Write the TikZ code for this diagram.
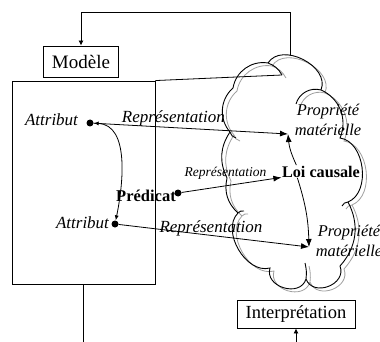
\documentclass[tikz,border=0pt]{standalone}
\usepackage{fontspec}
\setmainfont{Liberation Serif}
\usetikzlibrary{arrows.meta}

% contour du nuage (puffs + petits crochets interieurs)
\newcommand{\nuage}{%
  (233,88) to[bend left=45] (268,63)
  to[bend left=85, looseness=1.1] (321,90)
  to[bend left=45] (340,138)
  to[bend left=75] (348,202)
  to[bend left=35] (340,266)
  to[bend left=90, looseness=1.4] (306,279)
  to[bend left=90, looseness=1.35] (270,268)
  to[bend left=75] (238,213)
  to[bend left=30] (227,178)
  to[bend left=30] (230,132)
  to[bend left=45] (233,88)
  (321,90) to[bend right=45] (296,104)
  (306,279) to[bend right=10] (305,263)
  (268,63) to[bend left=20] (282,75)
  (238,213) to[bend left=30] (244,211)
  (230,132) to[bend right=30] (236,138)
  (348,202) to[bend right=30] (342,206)
}

\begin{document}
\begin{tikzpicture}[x=1pt,y=-1pt]
\useasboundingbox (0,0) rectangle (380,342);

\draw[gray!75, line width=0.8pt, shift={(4,3)}] \nuage;
\draw[line width=0.9pt] \nuage;

\begin{scope}[every node/.style={draw,line width=0.9pt,inner sep=0pt}]
    \node[minimum width=75, minimum height=31, font=\fontsize{19}{21}\selectfont] (modele) at (81,61.5) {Modèle};
    \node[minimum width=143, minimum height=203] (cadre) at (83.5,182.5) {};
    \node[minimum width=118, minimum height=28, font=\fontsize{18.5}{21}\selectfont] (interp) at (296,314) {Interprétation};
\end{scope}

\begin{scope}[every node/.style={inner sep=0pt}]
    \node[anchor=base, font=\itshape\fontsize{17}{19}\selectfont] (attr1) at (51.5,125) {Attribut};
    \node[anchor=base, font=\itshape\fontsize{17}{19}\selectfont] (attr2) at (82.5,228) {Attribut};
    \node[anchor=base, font=\bfseries\fontsize{16.5}{19}\selectfont] (predicat) at (146,201) {Prédicat};
    \node[anchor=base, font=\bfseries\fontsize{16.2}{19}\selectfont, inner sep=0.5pt] (loi) at (321,177) {Loi causale};
    \node[align=center, font=\itshape\fontsize{16.4}{20}\selectfont] (prop1) at (328,120) {Propriété\\matérielle};
    \node[align=center, font=\itshape\fontsize{16.4}{20}\selectfont] (prop2) at (349,241) {Propriété\\matérielle};
\end{scope}

\begin{scope}[every node/.style={circle,fill,inner sep=0pt,minimum size=7}]
    \node (d1) at (90,123) {};
    \node (d2) at (115,224) {};
    \node (dp) at (178,193) {};
\end{scope}

\coordinate (p1) at (288,134);
\coordinate (p2) at (309,247);
\coordinate (nuagehaut) at (290,55);
\coordinate (retour) at (290,12);
\coordinate (nuagein) at (282,75);
\coordinate (basg) at (83.5,342);
\coordinate (basd) at (296,342);

\begin{scope}[>={Latex[length=8pt,width=6pt]}, line width=0.8pt,
              every node/.style={inner sep=0pt,anchor=base}]
    \path [->] (d1) edge node[pos=0.41, yshift=5pt, font=\itshape\fontsize{17}{19}\selectfont] {Représentation} (p1);
    \path [->] (dp) edge node[pos=0.44, yshift=9pt, font=\itshape\fontsize{13.5}{15}\selectfont] {Représentation} (loi);
    \path [->] (d2) edge node[pos=0.485, yshift=2.5pt, font=\itshape\fontsize{17}{19}\selectfont] {Représentation} (p2);
    \path [->] ([xshift=15pt]loi.north west) edge[bend left=10] (p1);
    \path [->] ([xshift=16pt]loi.south west) edge[bend left=8] (p2);
\end{scope}

\draw[line width=0.8pt, {Latex[length=5pt,width=4pt]}-{Latex[length=5pt,width=4pt]}]
    (d1) .. controls +(40,2) and +(8,-39) .. (d2);
\draw[line width=0.8pt, -{Latex[length=5pt,width=5pt]}] (nuagehaut) -- (retour) -| (modele.north);
\draw[line width=0.8pt] (cadre.north east) -- (nuagein);
\draw[line width=0.8pt] (cadre.south) -- (basg);
\draw[line width=0.8pt, -{Latex[length=5pt,width=5pt]}] (basd) -- (interp.south);
\end{tikzpicture}
\end{document}
